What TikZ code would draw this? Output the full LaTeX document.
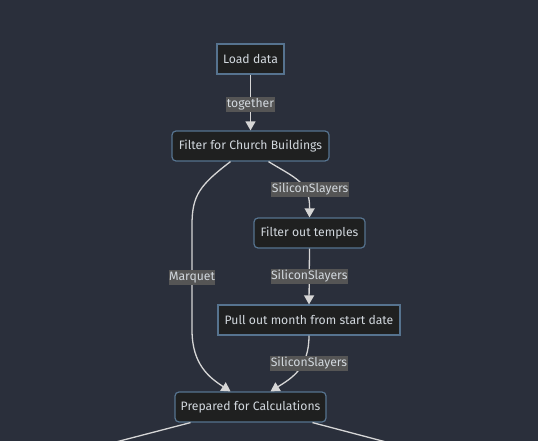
\documentclass[tikz,border=0pt]{standalone}
\usepackage{fontspec}
\setmainfont{Fira Sans}
\usetikzlibrary{arrows.meta}
\definecolor{bgc}{HTML}{2A2F3B}
\definecolor{nodefill}{HTML}{1F2020}
\definecolor{nodeborder}{HTML}{56738F}
\definecolor{txt}{HTML}{D2D8DE}
\definecolor{lblbg}{HTML}{555555}
\definecolor{edgec}{HTML}{D6D6D6}
\tikzset{
  box/.style={draw=nodeborder, line width=1.2pt, fill=nodefill, text=txt, font=\fontsize{12.2}{14}\selectfont, minimum height=30, inner xsep=4, inner ysep=0},
  rbox/.style={box, rounded corners=4},
  lbl/.style={fill=lblbg, text=txt, font=\fontsize{12.2}{14}\selectfont, inner xsep=0.5, inner ysep=1.5},
  edge/.style={draw=edgec, line width=1.3pt, -{Triangle[width=10pt,length=9pt]}},
  plain/.style={draw=edgec, line width=1.3pt},
}
\begin{document}
\begin{tikzpicture}[x=1pt,y=-1pt]
\fill[bgc] (0,0) rectangle (538,441);
\useasboundingbox (0,0) rectangle (538,441);
\clip (0,0) rectangle (538,441);
\node[box, minimum width=67] (load) at (250.5,59) {Load data};
\node[rbox, minimum width=157] (church) at (250.5,146) {Filter for Church Buildings};
\node[rbox, minimum width=111] (temples) at (309.5,233) {Filter out temples};
\node[box, minimum width=182] (pull) at (309,320) {Pull out month from start date};
\node[rbox, minimum width=151] (prep) at (250.5,407) {Prepared for Calculations};
\coordinate (outL) at (112,443);
\coordinate (outR) at (390,443);

\draw[edge] (load.south) -- node[lbl, yshift=-2] {together} (church.north);
\draw[edge] ([xshift=18]church.south) .. controls (295,178) and (310,182) .. (temples.north)
  node[lbl, pos=0.64, xshift=6] {SiliconSlayers};
\draw[edge] ([xshift=-20]church.south) .. controls (200,185) and (192,195) .. (192,225)
  -- node[lbl] {Marquet} (192,330) .. controls (192,365) and (210,378) .. ([xshift=-20]prep.north);
\draw[edge] (temples.south) -- node[lbl] {SiliconSlayers} (pull.north);
\draw[edge] (pull.south) .. controls (309,368) and (292,378) .. ([xshift=20]prep.north)
  node[lbl, pos=0.36, xshift=6] {SiliconSlayers};
\draw[plain] ([xshift=-60]prep.south) -- (outL);
\draw[plain] ([xshift=62]prep.south) -- (outR);
\end{tikzpicture}
\end{document}
